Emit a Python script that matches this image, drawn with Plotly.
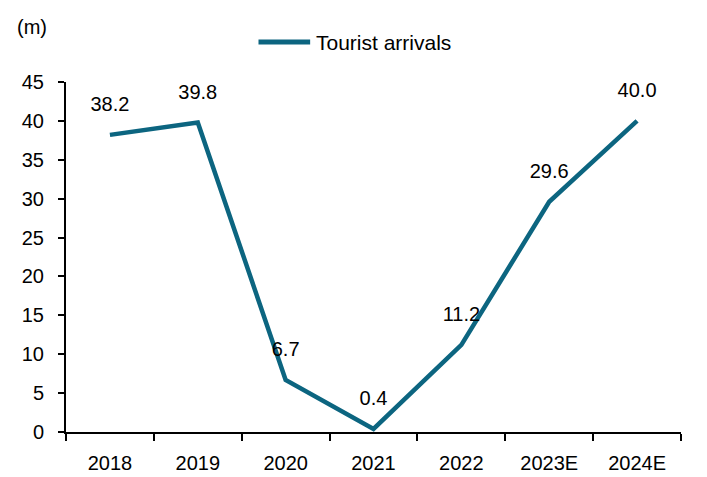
import plotly.graph_objects as go

# Annual tourist arrivals, millions
years = ["2018", "2019", "2020", "2021", "2022", "2023E", "2024E"]
arrivals = [38.2, 39.8, 6.7, 0.4, 11.2, 29.6, 40.0]
y_ticks = [0, 5, 10, 15, 20, 25, 30, 35, 40, 45]
series_name = "Tourist arrivals"

LINE_COLOR = "#0c6580"
FONT = "Liberation Sans, Arial, sans-serif"
FS = 20

fig = go.Figure()
fig.add_trace(go.Scatter(
    x=years,
    y=arrivals,
    mode="lines+markers+text",
    name=series_name,
    line=dict(color=LINE_COLOR, width=4.5),
    # transparent markers lift the value labels clear of the line
    marker=dict(size=28, color="rgba(0,0,0,0)"),
    text=[f"{v:.1f}" for v in arrivals],
    textposition="top center",
    textfont=dict(family=FONT, size=FS, color="#000000"),
    cliponaxis=False,
    showlegend=False,
))

# Key above the plot: a long thick swatch followed by the series name
LEG_Y = 1.114
fig.add_shape(
    type="line", xref="paper", yref="paper",
    x0=0.313, x1=0.397, y0=LEG_Y, y1=LEG_Y,
    line=dict(color=LINE_COLOR, width=5),
)

fig.update_layout(
    width=707,
    height=477,
    margin=dict(l=66, r=26, t=82, b=45),
    plot_bgcolor="white",
    paper_bgcolor="white",
    font=dict(family=FONT, size=FS, color="#000000"),
    showlegend=False,
    annotations=[
        dict(
            text="(m)", xref="paper", yref="paper",
            x=-0.083, y=1.157, xanchor="left", yanchor="middle",
            showarrow=False, font=dict(family=FONT, size=FS),
        ),
        dict(
            text=series_name, xref="paper", yref="paper",
            x=0.404, y=LEG_Y, xanchor="left", yanchor="middle",
            showarrow=False, font=dict(family=FONT, size=21),
        ),
    ],
)

fig.update_xaxes(
    type="category",
    range=[-0.5, 6.5],
    showline=True, linecolor="#000000", linewidth=2,
    ticks="outside", tickson="boundaries", ticklen=7, tickwidth=2, tickcolor="#000000",
    showgrid=False, zeroline=False,
    tickfont=dict(family=FONT, size=FS),
    ticklabelstandoff=12,
    automargin=False,
)
fig.update_yaxes(
    range=[0, 45],
    tickvals=y_ticks,
    showline=True, linecolor="#000000", linewidth=2,
    ticks="outside", ticklen=6, tickwidth=2, tickcolor="#000000",
    showgrid=False, zeroline=False,
    tickfont=dict(family=FONT, size=FS),
    ticklabelstandoff=10,
    automargin=False,
)

fig.write_html("out.html")
